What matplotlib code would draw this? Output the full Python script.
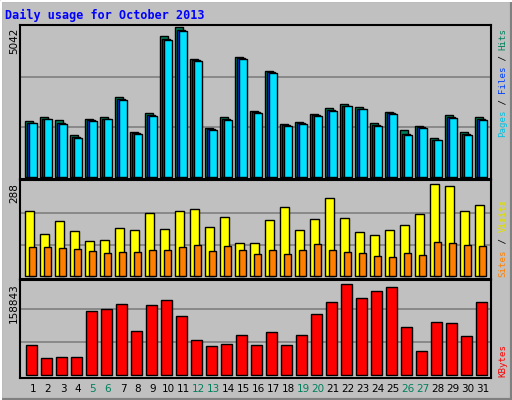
import matplotlib
matplotlib.use("Agg")
import matplotlib.pyplot as plt
from matplotlib.patches import Rectangle

days = list(range(1, 32))
day_labels = [str(d) for d in days]
weekend_days = [5, 6, 12, 13, 19, 20, 26, 27]

hits = [1871, 2006, 1915, 1400, 1949, 2006, 2688, 1501, 2150, 4738, 5042, 3954, 1646, 2006, 4032, 2218,
        3562, 1770, 1837, 2106, 2307, 2442, 2341, 1803, 2173, 1568, 1702, 1299, 2072, 1501, 2006]
files = [1830, 1965, 1800, 1330, 1900, 1965, 2620, 1465, 2080, 4650, 4950, 3920, 1600, 1950, 3990, 2170,
         3520, 1735, 1800, 2070, 2250, 2400, 2300, 1740, 2140, 1450, 1670, 1260, 2010, 1440, 1950]
pages = [1803, 1938, 1770, 1299, 1871, 1938, 2576, 1434, 2038, 4592, 4894, 3886, 1568, 1904, 3953, 2139,
         3494, 1702, 1770, 2038, 2206, 2374, 2274, 1702, 2106, 1400, 1635, 1232, 1971, 1400, 1904]
visits = [199, 129, 168, 138, 107, 110, 147, 141, 193, 144, 199, 205, 150, 181, 101, 101,
          172, 211, 141, 175, 239, 178, 135, 126, 141, 156, 190, 282, 276, 199, 217]
sites = [90, 90, 87, 84, 78, 71, 75, 75, 81, 81, 90, 96, 78, 93, 81, 68,
         80, 67, 80, 98, 80, 74, 70, 61, 58, 70, 64, 104, 101, 95, 92]
kbytes = [48132, 27275, 28879, 28879, 102682, 105890, 113912, 70594, 112308, 120330, 94660, 56154, 46528,
          49736, 64176, 48132, 68989, 48132, 64176, 97868, 117122, 146000, 123539, 134770, 141187, 77011,
          38506, 85033, 83429, 62572, 117122]
max1, max2, max3 = 5042, 288, 158843

W, H = 512, 400
fig = plt.figure(figsize=(W / 100, H / 100), dpi=100)
fig.patch.set_facecolor("#C0C0C0")
# bevel border
fig.add_artist(Rectangle((0, 0), 1, 1, transform=fig.transFigure, fill=False, ec="#808080", lw=3))
fig.add_artist(plt.Line2D([0.002, 0.002, 0.998], [0, 0.998, 0.998], transform=fig.transFigure, color="white", lw=1.5))

L, R = 20, 491


def make_ax(T, B, base, mpx, M):
    ax = fig.add_axes([L / W, 1 - B / H, (R - L) / W, (B - T) / H])
    pp = M / (base - mpx)
    ax.set_ylim(-(B - base) * pp, (base - T) * pp)
    ax.set_xlim(1 - 13 / 15, 31 + 8 / 15)
    ax.set_facecolor("#C0C0C0")
    for s in ax.spines.values():
        s.set_linewidth(1.5)
    for f in (1 / 3, 2 / 3):
        ax.axhline(M * f, color="#808080", lw=1.2, zorder=0)
    ax.set_yticks([])
    ax.set_xticks([])
    return ax


ax1 = make_ax(25, 179, 177, 27, max1)
ax2 = make_ax(180, 279, 276, 182, max2)
ax3 = make_ax(280, 378, 375, 276, max3)

ec = dict(edgecolor="black", linewidth=1, zorder=2)
ax1.bar([d - 0.25 for d in days], hits, width=0.52, color="#00805c", **ec)
ax1.bar([d - 0.13 for d in days], files, width=0.5, color="#0040ff", **ec)
ax1.bar([d + 0.0 for d in days], pages, width=0.49, color="#00e0ff", **ec)
ax2.bar([d - 0.23 for d in days], visits, width=0.55, color="#ffff00", **ec)
ax2.bar([d - 0.01 for d in days], sites, width=0.47, color="#ff8000", **ec)
ax3.bar([d - 0.11 for d in days], kbytes, width=0.71, color="#ff0000", **ec)

ax3.set_xticks(days)
ax3.set_xticklabels(day_labels, fontsize=7.5, family="DejaVu Sans")
ax3.tick_params(axis="x", length=0, pad=4)
for lbl, d in zip(ax3.get_xticklabels(), days):
    if d in weekend_days:
        lbl.set_color("#00805c")

fig.text(5 / W, 1 - 15 / H, "Daily usage for October 2013", color="#0000ff", fontsize=8.5,
         fontweight="bold", family="DejaVu Sans Mono", va="center", ha="left")

for y0, txt in ((25, str(max1)), (180, str(max2)), (280, str(max3))):
    fig.text(14 / W, 1 - (y0 + 3) / H, txt, rotation=90, fontsize=7.5, va="top", ha="center")


def legend(parts, bottom_px, cpx):
    y = bottom_px
    for txt, col in parts:
        fig.text(503 / W, 1 - y / H, txt, rotation=90, color=col, fontsize=6.6,
                 family="DejaVu Sans Mono", va="bottom", ha="center")
        y -= len(txt) * cpx


legend([("Pages", "#00c0e0"), (" / ", "black"), ("Files", "#0040ff"), (" / ", "black"), ("Hits", "#00805c")], 137, 5.45)
legend([("Sites", "#ff8000"), (" / ", "black"), ("Visits", "#e0e000")], 277, 5.6)
legend([("KBytes", "#ff0000")], 377, 5.8)

fig.savefig("out.png", dpi=100, facecolor=fig.get_facecolor())
